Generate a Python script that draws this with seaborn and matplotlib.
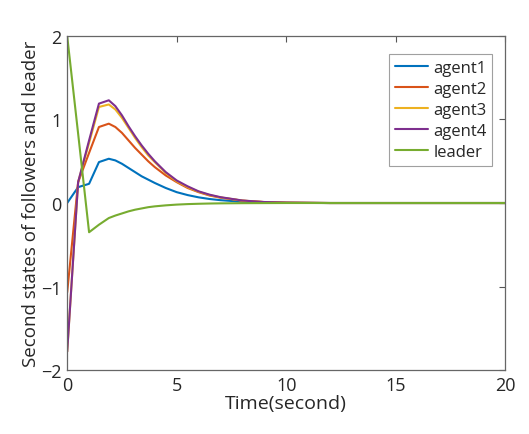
import numpy as np
import pandas as pd
import matplotlib
matplotlib.use("Agg")
import matplotlib.pyplot as plt
import seaborn as sns

# Sampled solver output (time grid is non-uniform)
time = [0, 0.5, 1.0, 1.45, 1.9, 2.2, 2.5, 2.8, 3.1, 3.4, 3.7, 4.0, 4.5, 5.0, 5.5,
        6.0, 6.5, 7.0, 8.0, 9.0, 10.0, 12.0, 15.0, 20.0]

agent1 = [0.0, 0.19, 0.23, 0.49, 0.53, 0.51, 0.47, 0.42, 0.37, 0.32, 0.28, 0.24, 0.18, 0.13, 0.095,
          0.068, 0.048, 0.034, 0.015, 0.006, 0.002, 0.0, 0.0, 0.0]
agent2 = [-1.07, 0.25, 0.60, 0.91, 0.95, 0.91, 0.84, 0.75, 0.66, 0.58, 0.50, 0.43, 0.33, 0.25, 0.18,
          0.13, 0.09, 0.064, 0.028, 0.011, 0.004, 0.0, 0.0, 0.0]
agent3 = [-1.78, 0.25, 0.72, 1.15, 1.18, 1.12, 1.02, 0.90, 0.78, 0.67, 0.57, 0.49, 0.36, 0.26, 0.19,
          0.135, 0.095, 0.067, 0.029, 0.011, 0.004, 0.0, 0.0, 0.0]
agent4 = [-1.78, 0.25, 0.75, 1.19, 1.23, 1.16, 1.05, 0.92, 0.80, 0.69, 0.59, 0.50, 0.37, 0.27, 0.20,
          0.14, 0.10, 0.07, 0.03, 0.012, 0.005, 0.0, 0.0, 0.0]
leader = [2.0, 0.83, -0.35, -0.26, -0.18, -0.15, -0.125, -0.10, -0.08, -0.065, -0.05, -0.04, -0.028, -0.019, -0.013,
          -0.009, -0.006, -0.004, -0.002, -0.001, 0.0, 0.0, 0.0, 0.0]

series_names = ["agent1", "agent2", "agent3", "agent4", "leader"]
colors = ["#0072BD", "#D95319", "#EDB120", "#7E2F8E", "#77AC30"]

frames = []
for name, vals in zip(series_names, [agent1, agent2, agent3, agent4, leader]):
    frames.append(pd.DataFrame({"t": time, "v": vals, "series": name}))
df = pd.concat(frames, ignore_index=True)

sns.set_style("white")
plt.rcParams["font.family"] = ["Open Sans", "DejaVu Sans"]

fig = plt.figure(figsize=(5.29, 4.35), dpi=100)
ax = fig.add_axes([0.127, 0.147, 0.828, 0.768])

sns.lineplot(data=df, x="t", y="v", hue="series", hue_order=series_names,
             palette=colors, linewidth=1.5, ax=ax, estimator=None, sort=False)

ax.set_xlim(0, 20)
ax.set_ylim(-2, 2)
ax.set_xticks([0, 5, 10, 15, 20])
ax.set_yticks([-2, -1, 0, 1, 2])
ax.tick_params(direction="in", length=4, width=0.8, color="#555555",
               labelsize=13, top=True, right=True, pad=4)
for s in ax.spines.values():
    s.set_visible(True)
    s.set_color("#666666")
    s.set_linewidth(0.9)

ax.set_xlabel("Time(second)", fontsize=14, labelpad=0)
ax.set_ylabel("Second states of followers and leader", fontsize=13.5, labelpad=1)

leg = ax.legend(loc="upper right", bbox_to_anchor=(0.99, 0.97), fontsize=12,
                frameon=True, fancybox=False, handlelength=2.0, handletextpad=0.3,
                borderpad=0.35, labelspacing=0.3)
leg.get_frame().set_edgecolor("#888888")
leg.get_frame().set_linewidth(0.8)

fig.savefig("out.png", dpi=100)
